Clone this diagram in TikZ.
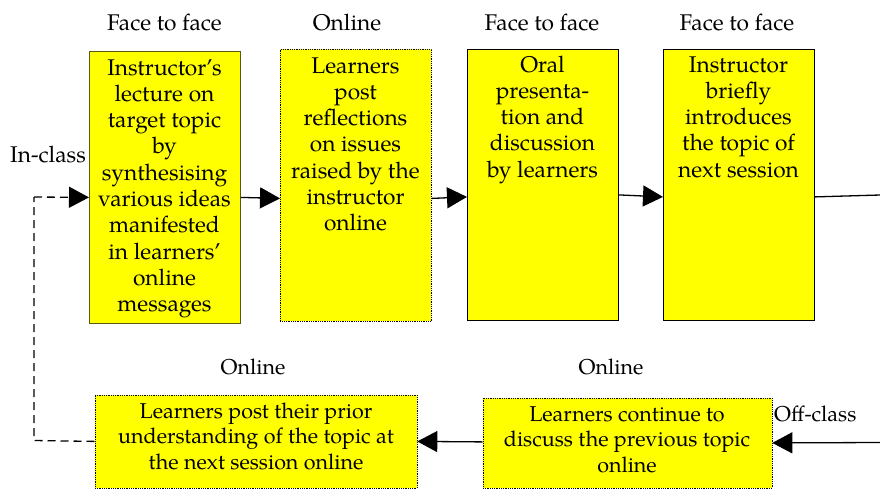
\documentclass[tikz,border=0pt]{standalone}
\usepackage{fontspec}
\setmainfont{TeX Gyre Pagella}
\usetikzlibrary{arrows.meta}
\definecolor{boxyellow}{HTML}{FFFF00}
\definecolor{boxedge}{HTML}{5A5A10}
\begin{document}
\begin{tikzpicture}[x=1pt,y=-1pt,
  box/.style={draw=black,fill=boxyellow,line width=0.8pt,inner sep=0pt,anchor=north west},
  dotbox/.style={box,densely dotted},
  toptext/.style={inner sep=0pt,anchor=base,align=center,font=\fontsize{22.7}{26.3}\selectfont},
  bottext/.style={inner sep=0pt,anchor=base,align=center,font=\fontsize{21.5}{25.3}\selectfont},
  lab/.style={inner sep=0pt,anchor=base,font=\fontsize{22.7}{26}\selectfont},
  blab/.style={inner sep=0pt,anchor=base,font=\fontsize{21.5}{25}\selectfont},
  arr/.style={line width=1.3pt,-{Triangle[length=20pt,width=21pt]}},
  darr/.style={arr,dash pattern=on 8pt off 5pt},
  dline/.style={line width=1.3pt,dash pattern=on 8pt off 5pt}]
\useasboundingbox (0,0) rectangle (880,488);
% boxes
\node[box,draw=boxedge,minimum width=151pt,minimum height=272pt] (b1) at (89,51) {};
\node[dotbox,minimum width=151pt,minimum height=272pt] (b2) at (280,49) {};
\node[box,minimum width=151pt,minimum height=271pt] (b3) at (467,49) {};
\node[box,minimum width=151pt,minimum height=271pt] (b4) at (663,49) {};
\node[dotbox,minimum width=322pt,minimum height=93pt] (b5) at (94.5,394.5) {};
\node[dotbox,minimum width=289pt,minimum height=90pt] (b6) at (482.5,397.5) {};
% box texts (anchor base = baseline of the last line)
\node[toptext] (t1) at (164.5,311.7) {Instructor’s\\lecture on\\target topic\\by\\synthesising\\various ideas\\manifested\\in learners’\\online\\messages};
\node[toptext] (t2) at (355.5,230.8) {Learners\\post\\reflections\\on issues\\raised by the\\instructor\\online};
\node[toptext] (t3) at (542.5,177.2) {Oral\\presenta-\\tion and\\discussion\\by learners};
\node[toptext] (t4) at (738.5,177.2) {Instructor\\briefly\\introduces\\the topic of\\next session};
\node[bottext] (t5) at (256,469.1) {Learners post their prior\\understanding of the topic at\\the next session online};
\node[bottext] (t6) at (627,472.1) {Learners continue to\\discuss the previous topic\\online};
% labels
\node[lab] (l1) at (164.5,30) {Face to face};
\node[lab] (l2) at (347,30) {Online};
\node[lab] (l3) at (542,30) {Face to face};
\node[lab] (l4) at (737,30) {Face to face};
\node[lab,anchor=base west] (lin) at (10,162) {In-class};
\node[blab] (l5) at (253,374) {Online};
\node[blab] (l6) at (611,374) {Online};
\node[blab,anchor=base west] (loff) at (774,421.5) {Off-class};
% connectors
\coordinate (outR) at (880,195);
\coordinate (inR) at (880,442.5);
\coordinate (c1) at (34,440.5);
\coordinate (c2) at (34,197);
\draw[arr] ([yshift=-10pt]b1.east) -- ([yshift=-13pt]b2.west);
\draw[arr] ([yshift=-13pt]b2.east) -- ([yshift=-12pt]b3.west);
\draw[arr] ([yshift=-10pt]b3.east) -- ([yshift=-12pt]b4.west);
\draw[line width=1.3pt] ([yshift=-12pt]b4.east) -- (outR);
\draw[arr] (inR) -- ([yshift=0pt]b6.east);
\draw[arr] ([yshift=1pt]b6.west) -- ([yshift=0pt]b5.east);
\draw[dline] (b5.west) -- (c1) -- (c2);
\draw[darr] (c2) -- ([yshift=-10pt]b1.west);
\end{tikzpicture}
\end{document}
